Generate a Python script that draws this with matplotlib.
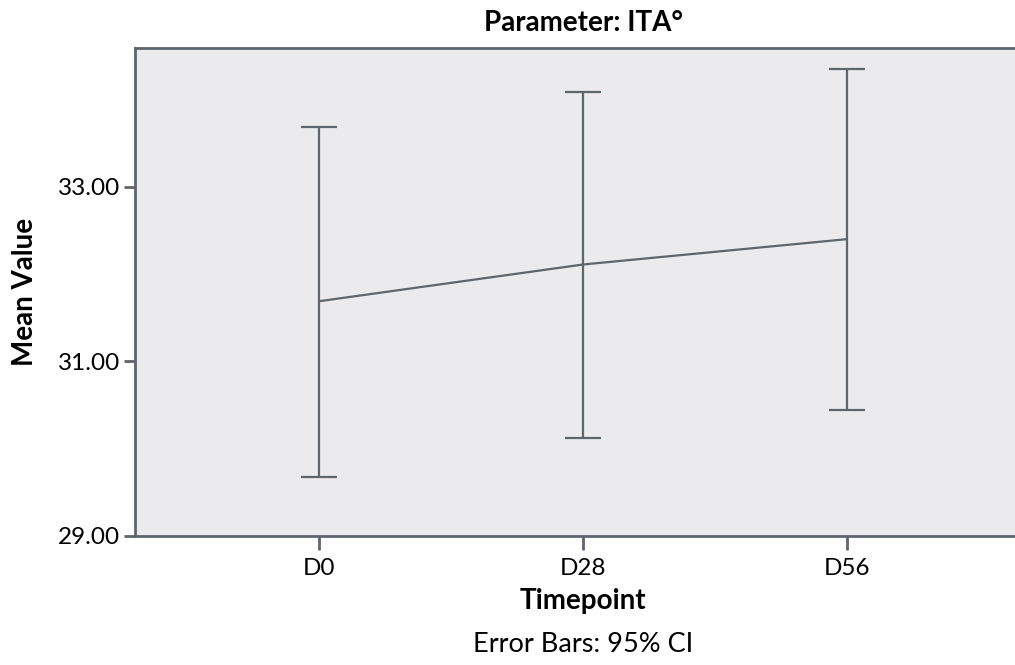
import numpy as np
import matplotlib.pyplot as plt

# Données
timepoints = ["D0", "D28", "D56"]
means = [31.69, 32.11, 32.40]
ci_low = [29.68, 30.12, 30.44]
ci_high = [33.68, 34.09, 34.35]
yticks = [29.0, 31.0, 33.0]

plt.rcParams['font.family'] = ['Lato', 'DejaVu Sans']
gris = '#60656b'

fig = plt.figure(figsize=(10.15, 6.65), dpi=100)
# l'axe dépasse à droite de l'image, comme sur l'original
ax = fig.add_axes([135/1015, 129/665, 896/1015, 488/665])
ax.set_facecolor('#ebebed')

x = np.arange(len(timepoints))
m = np.array(means)
err = [m - np.array(ci_low), np.array(ci_high) - m]
ax.errorbar(x, m, yerr=err, color=gris, linewidth=1.6, elinewidth=1.6,
            capsize=13, capthick=1.6)

ax.set_xlim(-0.70, 2.70)
ax.set_ylim(29.0, 34.59)
ax.set_xticks(x)
ax.set_xticklabels(timepoints)
ax.set_yticks(yticks)
ax.set_yticklabels(["%.2f" % v for v in yticks])

for s in ax.spines.values():
    s.set_color(gris)
    s.set_linewidth(2)
ax.tick_params(axis='both', colors=gris, width=2, labelsize=17.5, labelcolor='black')
ax.tick_params(axis='y', length=8, pad=3)
ax.tick_params(axis='x', length=10, pad=6)

ax.set_title("Parameter: ITA°", fontsize=20, fontweight='bold', pad=12)
ax.set_xlabel("Timepoint", fontsize=20, fontweight='bold', labelpad=6)
ax.set_ylabel("Mean Value", fontsize=20, fontweight='bold', labelpad=14)
fig.text(583/1015, 1 - 645/665, "Error Bars: 95% CI", fontsize=19.5,
         ha='center', va='center')

plt.savefig('out.png', dpi=100)
